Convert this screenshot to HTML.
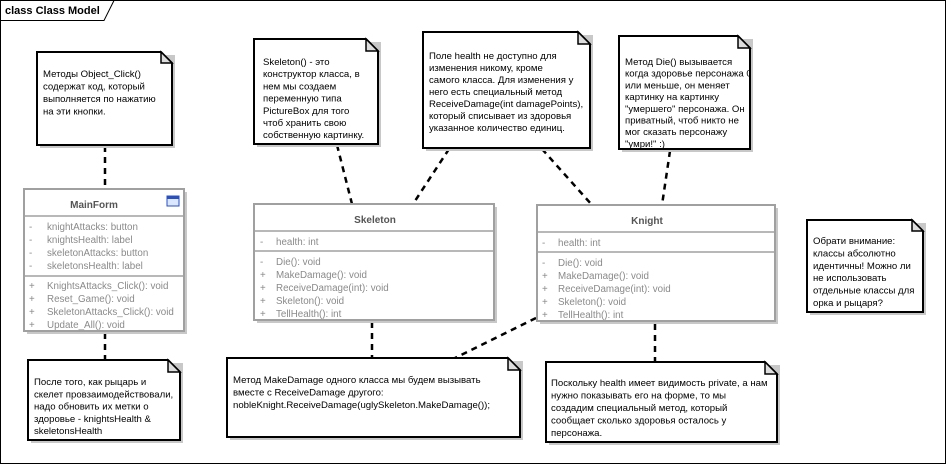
<!DOCTYPE html>
<html><head><meta charset="utf-8"><style>
html,body{margin:0;padding:0;background:#fff;}
svg{display:block;font-family:"Liberation Sans","Noto Sans CJK SC",sans-serif;}
.n{font-size:9.6px;fill:#000;}
.c{font-size:9.8px;fill:#8a8a8a;}
.h{font-size:10px;font-weight:bold;fill:#555;}
.note{fill:#fff;stroke:#000;stroke-width:2;}
.sh{fill:#c8c8c8;}
.cls{fill:#fff;stroke:#a0a0a0;stroke-width:2;}
.d{stroke:#000;stroke-width:2.5;stroke-dasharray:6,5;fill:none;}
</style></head><body>
<svg width="947" height="465" viewBox="0 0 947 465">
<defs><clipPath id="dieclip"><rect x="619" y="36" width="131" height="113"/></clipPath></defs>
<rect x="0.5" y="0.5" width="945" height="463" fill="#fff" stroke="#000"/>
<path d="M0.5 20.5 H104 L114 0.5" fill="none" stroke="#000"/>
<text x="5" y="14" style="font-size:11px;font-weight:bold">class Class Model</text>

<path class="d" d="M105 146 V189"/>
<path class="d" d="M105 333 V359"/>
<path class="d" d="M337 145 L352 204"/>
<path class="d" d="M449 149 L413 204"/>
<path class="d" d="M542 149 L592 205"/>
<path class="d" d="M670 151 L662 205"/>
<path class="d" d="M372 322 V357"/>
<path class="d" d="M536 318 L455 358"/>
<path class="d" d="M655 324 V362"/>

<g>
<rect class="sh" x="40" y="55" width="135" height="93"/>
<path class="note" d="M37 52 H161 L172 63 V145 H37 Z"/><path d="M161 52 V63 H172 Z" fill="#ddd" stroke="#000" stroke-width="1.5"/>
<text class="n" x="43" y="77">Методы Object_Click()</text>
<text class="n" x="43" y="89.5">содержат код, который</text>
<text class="n" x="43" y="102">выполняется по нажатию</text>
<text class="n" x="43" y="114.5">на эти кнопки.</text>
</g>
<g>
<rect class="sh" x="257" y="42" width="124" height="105"/>
<path class="note" d="M254 39 H366 L378 51 V144 H254 Z"/><path d="M366 39 V51 H378 Z" fill="#ddd" stroke="#000" stroke-width="1.5"/>
<text class="n" x="263" y="65">Skeleton() - это</text>
<text class="n" x="263" y="77.2">конструктор класса, в</text>
<text class="n" x="263" y="89.4">нем мы создаем</text>
<text class="n" x="263" y="101.6">переменную типа</text>
<text class="n" x="263" y="113.8">PictureBox для того</text>
<text class="n" x="263" y="126">чтоб хранить свою</text>
<text class="n" x="263" y="138.2">собственную картинку.</text>
</g>
<g>
<rect class="sh" x="426" y="35" width="167" height="116"/>
<path class="note" d="M423 32 H578 L590 44 V148 H423 Z"/><path d="M578 32 V44 H590 Z" fill="#ddd" stroke="#000" stroke-width="1.5"/>
<text class="n" x="429" y="59">Поле health не доступно для</text>
<text class="n" x="429" y="71">изменения никому, кроме</text>
<text class="n" x="429" y="83">самого класса. Для изменения у</text>
<text class="n" x="429" y="95">него есть специальный метод</text>
<text class="n" x="429" y="107">ReceiveDamage(int damagePoints),</text>
<text class="n" x="429" y="119">который списывает из здоровья</text>
<text class="n" x="429" y="131">указанное количество единиц.</text>
</g>
<g>
<rect class="sh" x="622" y="39" width="131" height="113"/>
<path class="note" d="M619 36 H738 L750 48 V149 H619 Z"/><path d="M738 36 V48 H750 Z" fill="#ddd" stroke="#000" stroke-width="1.5"/>
<g clip-path="url(#dieclip)">
<text class="n" x="625" y="65">Метод Die() вызывается</text>
<text class="n" x="625" y="76.7">когда здоровье персонажа 0</text>
<text class="n" x="625" y="88.4">или меньше, он меняет</text>
<text class="n" x="625" y="100.1">картинку на картинку</text>
<text class="n" x="625" y="111.8">"умершего" персонажа. Он</text>
<text class="n" x="625" y="123.5">приватный, чтоб никто не</text>
<text class="n" x="625" y="135.2">мог сказать персонажу</text>
<text class="n" x="625" y="146.9">"умри!" :)</text>
</g>
<path d="M619 149 H750" stroke="#000" stroke-width="2"/>
</g>
<g>
<rect class="sh" x="810" y="223" width="116" height="92"/>
<path class="note" d="M807 220 H912 L923 231 V312 H807 Z"/><path d="M912 220 V231 H923 Z" fill="#ddd" stroke="#000" stroke-width="1.5"/>
<text class="n" x="813" y="244">Обрати внимание:</text>
<text class="n" x="813" y="256.4">классы абсолютно</text>
<text class="n" x="813" y="268.8">идентичны! Можно ли</text>
<text class="n" x="813" y="281.2">не использовать</text>
<text class="n" x="813" y="293.6">отдельные классы для</text>
<text class="n" x="813" y="306">орка и рыцаря?</text>
</g>
<g>
<rect class="sh" x="31" y="363" width="152" height="80"/>
<path class="note" d="M28 360 H168 L180 372 V440 H28 Z"/><path d="M168 360 V372 H180 Z" fill="#ddd" stroke="#000" stroke-width="1.5"/>
<text class="n" x="34" y="385">После того, как рыцарь и</text>
<text class="n" x="34" y="397.3">скелет провзаимодействовали,</text>
<text class="n" x="34" y="409.6">надо обновить их метки о</text>
<text class="n" x="34" y="421.9">здоровье - knightsHealth &amp;</text>
<text class="n" x="34" y="434.2">skeletonsHealth</text>
</g>
<g>
<rect class="sh" x="230" y="361" width="293" height="79"/>
<path class="note" d="M227 358 H508 L520 370 V437 H227 Z"/><path d="M508 358 V370 H520 Z" fill="#ddd" stroke="#000" stroke-width="1.5"/>
<text class="n" x="233" y="383">Метод MakeDamage одного класса мы будем вызывать</text>
<text class="n" x="233" y="395.5">вместе с ReceiveDamage другого:</text>
<text class="n" x="233" y="408">nobleKnight.ReceiveDamage(uglySkeleton.MakeDamage());</text>
</g>
<g>
<rect class="sh" x="549" y="365" width="231" height="80"/>
<path class="note" d="M546 362 H765 L777 374 V442 H546 Z"/><path d="M765 362 V374 H777 Z" fill="#ddd" stroke="#000" stroke-width="1.5"/>
<text class="n" x="551" y="386">Поскольку health имеет видимость private, а нам</text>
<text class="n" x="551" y="398.5">нужно показывать его на форме, то мы</text>
<text class="n" x="551" y="411">создадим специальный метод, который</text>
<text class="n" x="551" y="423.5">сообщает сколько здоровья осталось у</text>
<text class="n" x="551" y="436">персонажа.</text>
</g>

<rect class="sh" x="27" y="192" width="160" height="142"/>
<rect class="cls" x="24" y="189" width="160" height="142"/>
<path d="M24 216 H184 M24 276 H184" stroke="#a0a0a0" stroke-width="1.5"/>
<text class="h" x="94" y="208" text-anchor="middle">MainForm</text>
<rect x="167" y="196" width="12" height="10" fill="#dbe6ff" stroke="#2a50c0"/><rect x="167" y="196" width="12" height="3" fill="#2a50c0"/>
<g class="c">
<text x="29" y="230">-</text><text x="47" y="230">knightAttacks: button</text>
<text x="29" y="243">-</text><text x="47" y="243">knightsHealth: label</text>
<text x="29" y="256">-</text><text x="47" y="256">skeletonAttacks: button</text>
<text x="29" y="269">-</text><text x="47" y="269">skeletonsHealth: label</text>
<text x="29" y="289">+</text><text x="47" y="289">KnightsAttacks_Click(): void</text>
<text x="29" y="302">+</text><text x="47" y="302">Reset_Game(): void</text>
<text x="29" y="315">+</text><text x="47" y="315">SkeletonAttacks_Click(): void</text>
<text x="29" y="328">+</text><text x="47" y="328">Update_All(): void</text>
</g>

<rect class="sh" x="257" y="207" width="240" height="116"/>
<rect class="cls" x="254" y="204" width="240" height="116"/>
<path d="M254 231 H494 M254 251 H494" stroke="#a0a0a0" stroke-width="1.5"/>
<text class="h" x="375" y="223" text-anchor="middle">Skeleton</text>
<g class="c">
<text x="260" y="245">-</text><text x="276" y="245">health: int</text>
<text x="260" y="265">-</text><text x="276" y="265">Die(): void</text>
<text x="260" y="278">+</text><text x="276" y="278">MakeDamage(): void</text>
<text x="260" y="291">+</text><text x="276" y="291">ReceiveDamage(int): void</text>
<text x="260" y="304">+</text><text x="276" y="304">Skeleton(): void</text>
<text x="260" y="317">+</text><text x="276" y="317">TellHealth(): int</text>
</g>

<rect class="sh" x="540" y="208" width="238" height="116"/>
<rect class="cls" x="537" y="205" width="238" height="116"/>
<path d="M537 232 H775 M537 252 H775" stroke="#a0a0a0" stroke-width="1.5"/>
<text class="h" x="647" y="224" text-anchor="middle">Knight</text>
<g class="c">
<text x="542" y="246">-</text><text x="558" y="246">health: int</text>
<text x="542" y="266">-</text><text x="558" y="266">Die(): void</text>
<text x="542" y="279">+</text><text x="558" y="279">MakeDamage(): void</text>
<text x="542" y="292">+</text><text x="558" y="292">ReceiveDamage(int): void</text>
<text x="542" y="305">+</text><text x="558" y="305">Skeleton(): void</text>
<text x="542" y="318">+</text><text x="558" y="318">TellHealth(): int</text>
</g>
</svg>
</body></html>
